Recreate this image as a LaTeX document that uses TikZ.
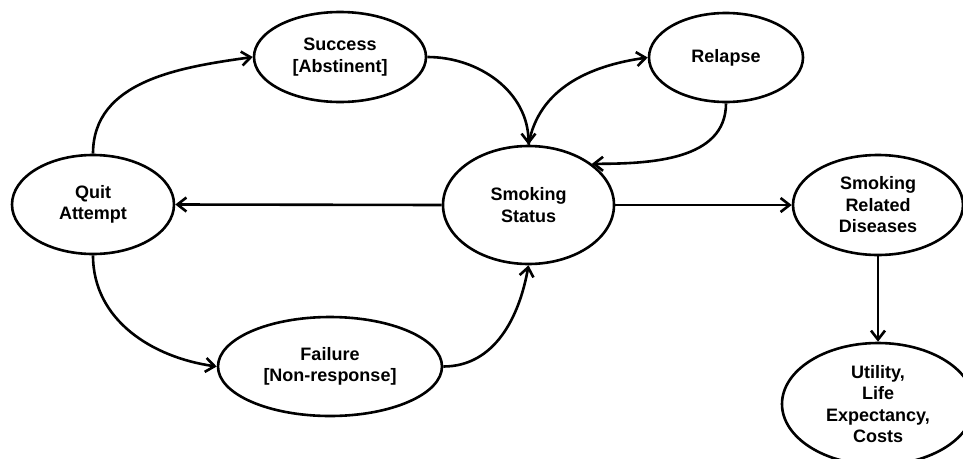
\documentclass[tikz,border=0pt]{standalone}
\usepackage{fontspec}
\setmainfont{Liberation Sans}
\usetikzlibrary{shapes.geometric,arrows.meta}
\begin{document}
\begin{tikzpicture}[x=1pt,y=-1pt,
  state/.style={draw, ellipse, line width=2.6pt, inner sep=-3pt, align=center,
    font=\fontsize{18}{21.5}\selectfont\bfseries},
  conn/.style={line width=2.6pt, -{Straight Barb[length=9pt,width=14pt,line width=2.6pt]}}
]
\useasboundingbox (0,0) rectangle (963,458);
\node[state, minimum width=162pt, minimum height=99pt] (quit) at (93,204.5) {Quit\\Attempt};
\node[state, minimum width=172pt, minimum height=90pt] (succ) at (340,57) {Success\\{[}Abstinent{]}};
\node[state, minimum width=154pt, minimum height=89pt] (rel) at (726,57.5) {Relapse};
\node[state, minimum width=171pt, minimum height=118pt] (ss) at (528.5,205) {Smoking\\Status};
\node[state, minimum width=170pt, minimum height=100pt] (srd) at (878,205) {Smoking\\Related\\Diseases};
\node[state, minimum width=224pt, minimum height=99pt] (fail) at (330,366.5) {Failure\\{[}Non-response{]}};
\node[state, minimum width=192pt, minimum height=122pt] (util) at (878,404) {Utility,\\Life\\Expectancy,\\Costs};

\draw[conn] (quit.north) to[out=90,in=188] (succ.west);
\draw[conn] (succ.east) to[out=0,in=90] (ss.north);
\draw[conn] (ss.north) to[out=80,in=188] (rel.west);
\draw[conn] (rel.south) to[out=-90,in=0] (ss.33);
\draw[conn] (ss.west) -- (quit.east);
\draw[conn] (ss.east) -- (srd.west);
\draw[conn] (quit.south) to[out=-90,in=172] (fail.west);
\draw[conn] (fail.east) to[out=0,in=-100] (ss.south);
\draw[conn] (srd.south) -- (util.north);
\end{tikzpicture}
\end{document}
